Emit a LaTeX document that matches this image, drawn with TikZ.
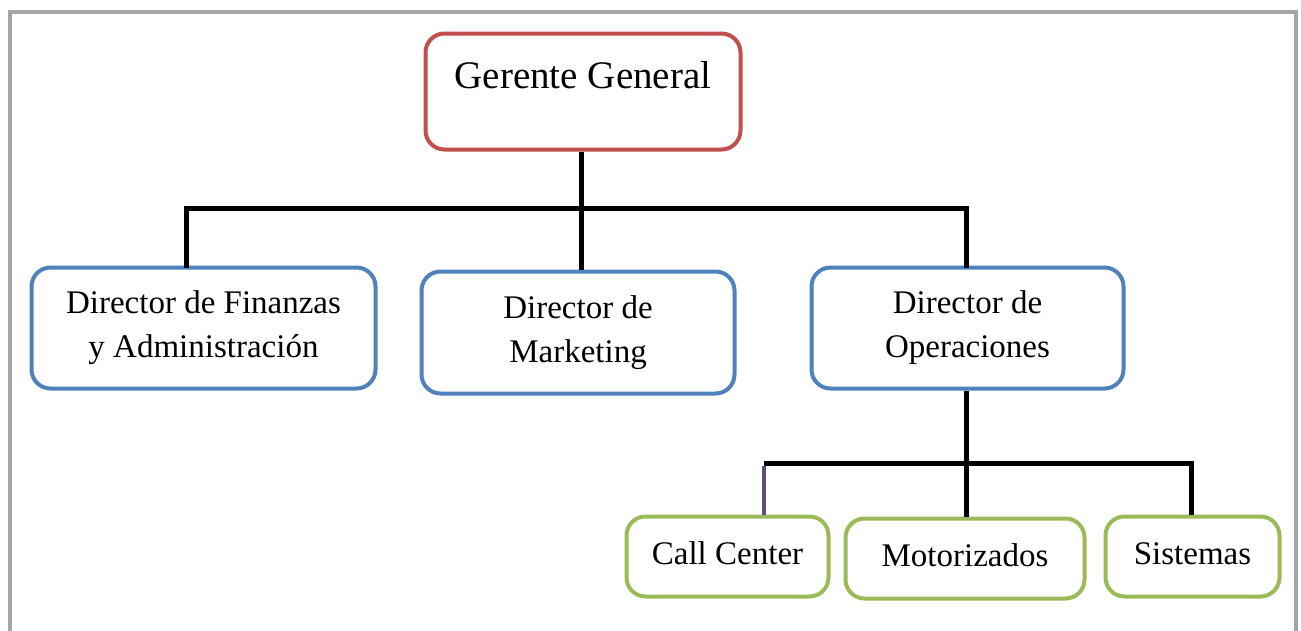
\documentclass[tikz,border=0pt]{standalone}
\usepackage{fontspec}
\setmainfont{Liberation Serif}
\definecolor{boxred}{HTML}{C0504D}
\definecolor{boxblue}{HTML}{4F81BD}
\definecolor{boxgreen}{HTML}{9BBB59}
\definecolor{framegray}{HTML}{A6A6A6}
\definecolor{linkpurple}{HTML}{604A7B}
\begin{document}
\begin{tikzpicture}[x=1pt,y=-1pt,
  orgbox/.style={draw, line width=4pt, rounded corners=19pt, fill=white,
    inner sep=0pt, align=center, font=\fontsize{33}{44}\selectfont},
  topbox/.style={orgbox, draw=boxred, font=\fontsize{39}{45}\selectfont,
    text height=28pt, text depth=35pt},
  midbox/.style={orgbox, draw=boxblue, execute at begin node={\rule{0pt}{29pt}}},
  lowbox/.style={orgbox, draw=boxgreen, text depth=6pt},
  conn/.style={draw=black, line width=5pt},
]
\useasboundingbox (0,0) rectangle (1301,630);
\fill[white] (0,0) rectangle (1301,630);

% open frame around the chart
\draw[framegray, line width=4pt] (9.5,640) -- (9.5,11.5) -- (1295.5,11.5) -- (1295.5,640);

% boxes
\node[topbox, minimum width=315pt, minimum height=116pt] (g) at (583,91.5) {Gerente General};
\node[midbox, minimum width=344pt, minimum height=121pt] (fin) at (203.5,328) {Director de Finanzas\\y Administración};
\node[midbox, minimum width=313pt, minimum height=122pt] (mkt) at (578,332.5) {Director de\\Marketing};
\node[midbox, minimum width=312pt, minimum height=121pt] (ops) at (967.5,328) {Director de\\Operaciones};
\node[lowbox, minimum width=202pt, minimum height=80pt] (cc) at (727.5,556.5) {Call Center};
\node[lowbox, minimum width=239pt, minimum height=80pt] (mot) at (965,558.5) {Motorizados};
\node[lowbox, minimum width=174pt, minimum height=80pt] (sis) at (1192.5,556.5) {Sistemas};

% branch points
\coordinate (busA) at (581,208);
\coordinate (busAL) at (186,208);
\coordinate (busAR) at (966,208);
\coordinate (busB) at (966,463);
\coordinate (busBL) at (764,463);
\coordinate (busBR) at (1191,463);

% first level connectors
\draw[conn] (busA |- g.south) -- (busA |- mkt.north);
\draw[conn, line cap=rect] (busAL |- fin.north) -- (busAL) -- (busAR) -- (busAR |- ops.north);

% second level connectors
\draw[conn] (busB |- ops.south) -- (busB |- mot.north);
\draw[conn] (busBL) -- (busBR) -- (busBR |- sis.north);
\draw[linkpurple, line width=4pt] (busBL) ++(0,2.5) -- (busBL |- cc.north);
\end{tikzpicture}
\end{document}
